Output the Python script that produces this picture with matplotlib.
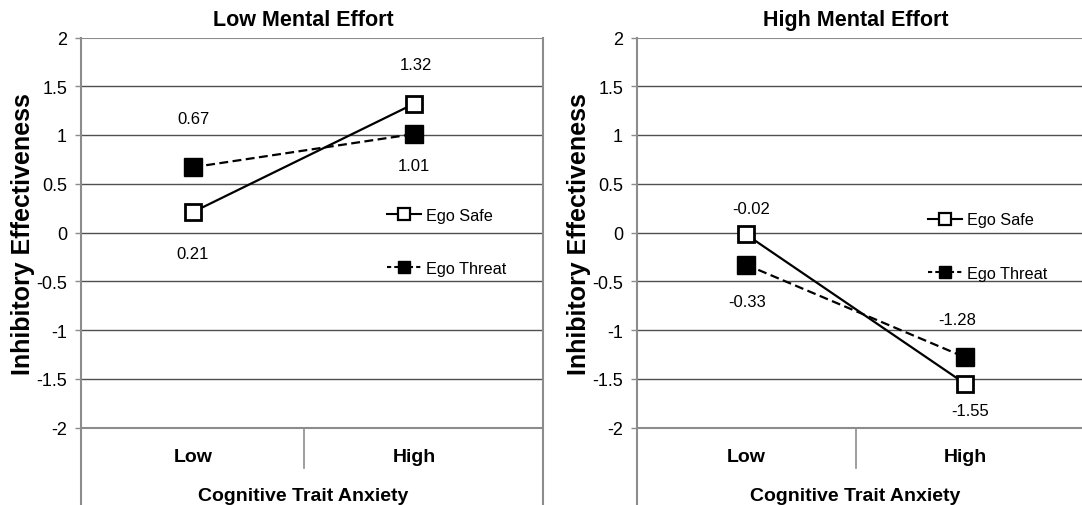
import matplotlib
matplotlib.use("Agg")
import matplotlib.pyplot as plt
from matplotlib.lines import Line2D

plt.rcParams["font.family"] = ["Liberation Sans", "DejaVu Sans"]

# cell means, Low / High cognitive trait anxiety
anxiety_levels = ["Low", "High"]
series_names = ["Ego Safe", "Ego Threat"]
panel_titles = ["Low Mental Effort", "High Mental Effort"]
low_effort_safe = [0.21, 1.32]
low_effort_threat = [0.67, 1.01]
high_effort_safe = [-0.02, -1.55]
high_effort_threat = [-0.33, -1.28]
y_ticks = [-2, -1.5, -1, -0.5, 0, 0.5, 1, 1.5, 2]

W, H = 1082, 506
fig = plt.figure(figsize=(W / 100, H / 100), dpi=100)

# pixel layout of the two panels
y_top_px, y_bot_px = 38.5, 428.5          # value 2 and value -2
px_per_unit = (y_bot_px - y_top_px) / 4.0
ymin = -2 - (H - y_bot_px) / px_per_unit

panels = [
    dict(left=81, right=543, low_x=193, step=221, right_spine=True,
         safe=low_effort_safe, threat=low_effort_threat,
         safe_off=[(0, -41), (2, 39)], threat_off=[(0, 49), (0, -31)],
         legend_xy=(387, 243)),
    dict(left=637, right=1082, low_x=746, step=219, right_spine=False,
         safe=high_effort_safe, threat=high_effort_threat,
         safe_off=[(5, 26), (5, -27)], threat_off=[(1, -37), (-8, 38)],
         legend_xy=(928, 247.5)),
]

axis_grey = "#8c8c8c"
grid_grey = "#4f4f4f"

for title, p in zip(panel_titles, panels):
    ax = fig.add_axes([p["left"] / W, 0, (p["right"] - p["left"]) / W, 1 - y_top_px / H])
    ax.set_ylim(ymin, 2)
    ax.set_xlim(-(p["low_x"] - p["left"]) / p["step"], (p["right"] - p["low_x"]) / p["step"])

    for s in ["top", "bottom"]:
        ax.spines[s].set_visible(False)
    ax.spines["left"].set_color(axis_grey)
    ax.spines["left"].set_linewidth(1.5)
    if p["right_spine"]:
        ax.spines["right"].set_color(axis_grey)
        ax.spines["right"].set_linewidth(1.5)
    else:
        ax.spines["right"].set_visible(False)

    ax.set_yticks(y_ticks)
    ax.set_yticklabels([f"{t:g}" for t in y_ticks])
    ax.set_xticks([])
    ax.tick_params(axis="y", direction="out", length=4, width=1, color=axis_grey,
                   labelsize=13, pad=6)
    ax.yaxis.grid(True, color=grid_grey, linewidth=1)
    ax.set_axisbelow(True)
    lines = ax.get_ygridlines()
    for gl, t in zip(lines, y_ticks):
        if abs(t) == 2:
            gl.set_color(axis_grey)
            gl.set_linewidth(1.5)

    # category axis divider and labels below the plot area
    ax.plot([0.5, 0.5], [-2, -2 - 40 / px_per_unit], color=axis_grey, lw=1.2, clip_on=False)
    xs = list(range(len(anxiety_levels)))
    for x, lab in zip(xs, anxiety_levels):
        ax.text(x, -2 - 33.5 / px_per_unit, lab, ha="center", va="baseline",
                fontsize=14, fontweight="bold")
    ax.text(0.5, -2 - 72.5 / px_per_unit, "Cognitive Trait Anxiety", ha="center",
            va="baseline", fontsize=14, fontweight="bold")

    ax.text(0.5, 2 + 13 / px_per_unit, title, ha="center", va="baseline",
            fontsize=15.5, fontweight="bold")

    ax.plot(xs, p["threat"], color="black", lw=1.6, ls=(0, (4, 2)), marker="s",
            markersize=12.5, markerfacecolor="black", markeredgecolor="black", zorder=3)
    ax.plot(xs, p["safe"], color="black", lw=1.6, ls="-", marker="s",
            markersize=12, markerfacecolor="white", markeredgecolor="black",
            markeredgewidth=2, zorder=4)

    for vals, offs in [(p["safe"], p["safe_off"]), (p["threat"], p["threat_off"])]:
        for x, v, (dx, dy) in zip(xs, vals, offs):
            ax.annotate(f"{v:.2f}", (x, v), xytext=(dx, dy), textcoords="offset pixels",
                        ha="center", va="center", fontsize=12)

    handles = [
        Line2D([], [], color="black", lw=1.5, ls="-", marker="s", markersize=8,
               markerfacecolor="white", markeredgecolor="black", markeredgewidth=1.6),
        Line2D([], [], color="black", lw=1.5, ls=(0, (2, 1.5)), marker="s", markersize=8,
               markerfacecolor="black", markeredgecolor="black"),
    ]
    lx, ly = p["legend_xy"]
    ax.legend(handles, series_names, loc="center left", frameon=False,
              bbox_to_anchor=((lx - p["left"]) / (p["right"] - p["left"]), 1 - (ly - y_top_px) / (H - y_top_px)),
              fontsize=11.7, handlelength=2.1, handletextpad=0.3, labelspacing=2.35,
              borderpad=0, borderaxespad=0)

    fig.text((p["left"] - 58) / W, 1 - 234 / H, "Inhibitory Effectiveness", rotation=90,
             ha="center", va="center", fontsize=18, fontweight="bold")

fig.savefig("out.png", dpi=100)
